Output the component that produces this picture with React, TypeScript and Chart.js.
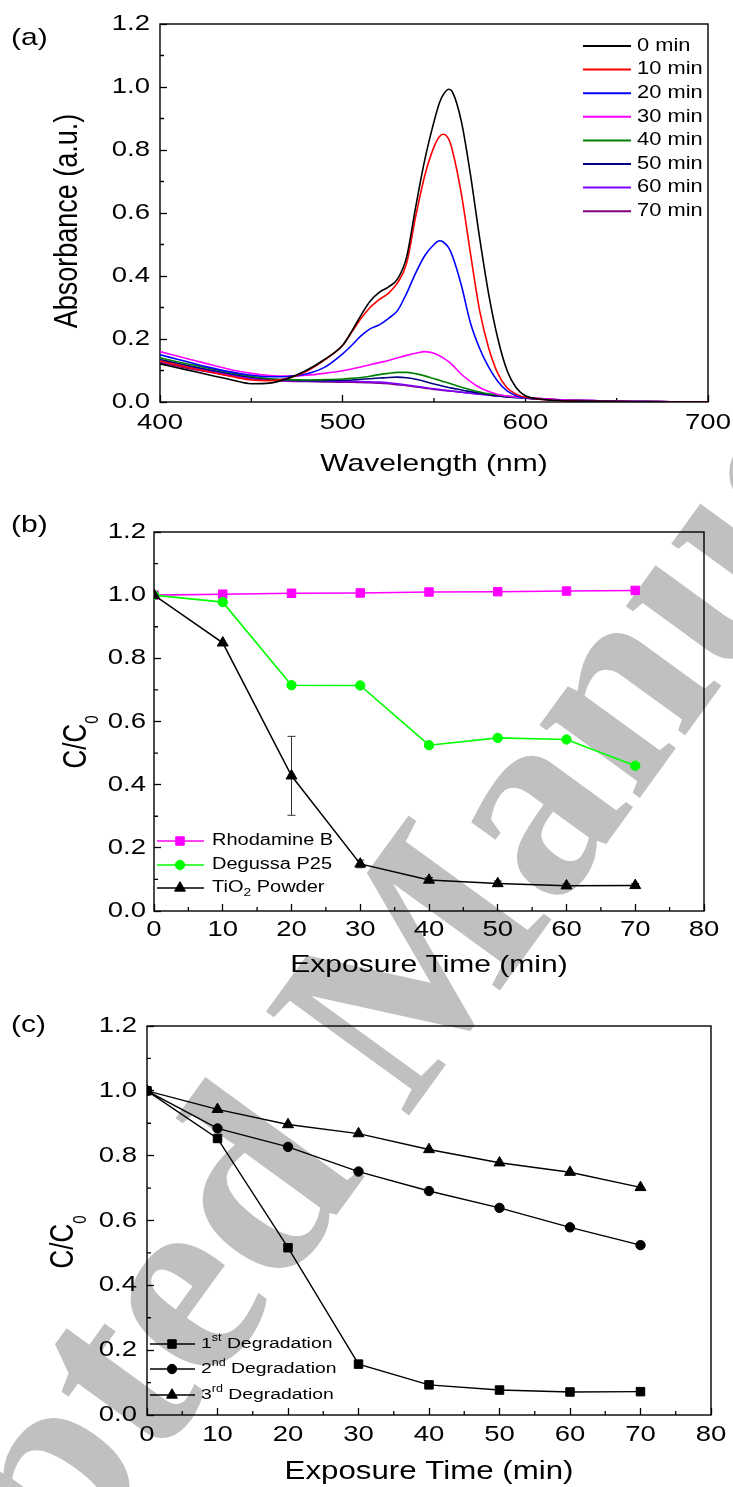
import { useEffect, useRef } from 'react';
import { Chart, registerables } from 'chart.js';

Chart.register(...registerables);

const SANS = "'Liberation Sans', Arial, Helvetica, sans-serif";
const SERIF = "'Liberation Serif', 'Times New Roman', serif";
const STRETCH = 1.25;

/* ---------------- (a) UV-vis spectra ---------------- */
const wavelengthNm = [400, 410, 420, 430, 440, 450, 460, 470, 480, 490, 500, 505, 510, 515, 520, 525, 530, 535, 540, 545, 550, 553, 555, 558, 560, 565, 570, 575, 580, 585, 590, 595, 600, 610, 620, 640, 660, 680, 700];
const abs0min = [0.121, 0.108, 0.095, 0.082, 0.069, 0.058, 0.060, 0.075, 0.100, 0.135, 0.180, 0.225, 0.275, 0.320, 0.348, 0.365, 0.390, 0.460, 0.620, 0.770, 0.890, 0.950, 0.975, 0.993, 0.985, 0.890, 0.720, 0.520, 0.340, 0.200, 0.100, 0.045, 0.020, 0.008, 0.004, 0.002, 0.001, 0.000, 0.000];
const abs10min = [0.130, 0.117, 0.104, 0.092, 0.080, 0.070, 0.068, 0.075, 0.097, 0.133, 0.180, 0.222, 0.265, 0.300, 0.325, 0.345, 0.378, 0.440, 0.590, 0.720, 0.810, 0.843, 0.850, 0.835, 0.800, 0.660, 0.470, 0.290, 0.170, 0.090, 0.045, 0.025, 0.015, 0.008, 0.004, 0.002, 0.001, 0.000, 0.000];
const abs20min = [0.150, 0.135, 0.120, 0.106, 0.094, 0.085, 0.080, 0.081, 0.089, 0.110, 0.153, 0.180, 0.210, 0.232, 0.245, 0.265, 0.290, 0.345, 0.410, 0.465, 0.500, 0.512, 0.508, 0.490, 0.465, 0.370, 0.250, 0.170, 0.110, 0.065, 0.035, 0.020, 0.013, 0.008, 0.005, 0.003, 0.001, 0.000, 0.000];
const abs30min = [0.160, 0.145, 0.130, 0.115, 0.101, 0.091, 0.084, 0.082, 0.085, 0.091, 0.099, 0.105, 0.111, 0.118, 0.125, 0.132, 0.140, 0.148, 0.155, 0.160, 0.155, 0.147, 0.140, 0.128, 0.118, 0.088, 0.065, 0.046, 0.033, 0.024, 0.019, 0.016, 0.014, 0.010, 0.007, 0.004, 0.002, 0.001, 0.000];
const abs40min = [0.140, 0.127, 0.115, 0.103, 0.091, 0.081, 0.074, 0.071, 0.070, 0.071, 0.073, 0.075, 0.078, 0.082, 0.087, 0.091, 0.094, 0.094, 0.090, 0.083, 0.074, 0.069, 0.065, 0.060, 0.056, 0.047, 0.039, 0.032, 0.026, 0.022, 0.019, 0.016, 0.013, 0.009, 0.006, 0.003, 0.002, 0.001, 0.000];
const abs50min = [0.135, 0.122, 0.110, 0.099, 0.088, 0.079, 0.073, 0.070, 0.068, 0.068, 0.069, 0.070, 0.072, 0.074, 0.076, 0.078, 0.079, 0.077, 0.072, 0.065, 0.057, 0.053, 0.050, 0.046, 0.044, 0.038, 0.033, 0.028, 0.023, 0.019, 0.016, 0.014, 0.012, 0.009, 0.006, 0.003, 0.002, 0.001, 0.000];
const abs60min = [0.130, 0.118, 0.106, 0.095, 0.085, 0.076, 0.071, 0.068, 0.067, 0.066, 0.066, 0.066, 0.065, 0.064, 0.063, 0.061, 0.058, 0.054, 0.050, 0.046, 0.042, 0.040, 0.038, 0.036, 0.035, 0.031, 0.028, 0.025, 0.022, 0.019, 0.017, 0.015, 0.013, 0.010, 0.007, 0.004, 0.002, 0.001, 0.000];
const abs70min = [0.125, 0.113, 0.102, 0.092, 0.082, 0.074, 0.069, 0.066, 0.065, 0.064, 0.063, 0.063, 0.062, 0.061, 0.060, 0.058, 0.055, 0.052, 0.048, 0.044, 0.040, 0.038, 0.037, 0.035, 0.034, 0.031, 0.028, 0.025, 0.022, 0.019, 0.017, 0.015, 0.013, 0.010, 0.007, 0.004, 0.002, 0.001, 0.000];
const spectra = [abs0min, abs10min, abs20min, abs30min, abs40min, abs50min, abs60min, abs70min];
const spectraLabels = ['0 min', '10 min', '20 min', '30 min', '40 min', '50 min', '60 min', '70 min'];
const spectraColors = ['#000000', '#ff0000', '#0000ff', '#ff00ff', '#008000', '#000080', '#8000ff', '#800080'];
const wavelengthMinor = [450, 550, 650];

/* ---------------- (b) catalyst comparison ---------------- */
const exposureMin = [0, 10, 20, 30, 40, 50, 60, 70];
const rhodamineB = [1.000, 1.003, 1.006, 1.007, 1.010, 1.011, 1.013, 1.015];
const degussaP25 = [1.000, 0.978, 0.715, 0.714, 0.525, 0.548, 0.543, 0.460];
const tio2Powder = [1.000, 0.849, 0.428, 0.149, 0.098, 0.087, 0.080, 0.081];
const tio2Error = [0, 0, 0.125, 0.012, 0.008, 0.008, 0.006, 0.006];

/* ---------------- (c) reuse cycles ---------------- */
const firstDegradation = [1.000, 0.853, 0.516, 0.157, 0.093, 0.077, 0.071, 0.072];
const secondDegradation = [1.000, 0.884, 0.827, 0.751, 0.691, 0.639, 0.579, 0.524];
const thirdDegradation = [1.000, 0.943, 0.896, 0.868, 0.819, 0.778, 0.749, 0.702];

const timeMinor = [5, 15, 25, 35, 45, 55, 65, 75];
const ratioMinor = [0.1, 0.3, 0.5, 0.7, 0.9, 1.1];

/* ---------------- helpers ---------------- */
function patchStretch(ctx: any) {
  if (ctx.__stretched) return;
  ctx.__stretched = true;
  const orig = ctx.fillText;
  ctx.fillText = function (text: string, x: number, y: number, ...rest: any[]) {
    this.save();
    this.translate(x, y);
    const m = this.getTransform();
    if (Math.abs(m.b) > Math.abs(m.a)) this.scale(1, STRETCH);
    else this.scale(STRETCH, 1);
    orig.call(this, text, 0, 0, ...rest);
    this.restore();
  };
}

function linearAxis(isX: boolean, o: any) {
  return {
    type: 'linear',
    position: isX ? 'bottom' : 'left',
    min: o.min,
    max: o.max,
    ticks: {
      stepSize: o.step,
      autoSkip: false,
      maxRotation: 0,
      minRotation: 0,
      padding: o.labelPad,
      color: '#000',
      font: { family: SANS, size: 22 },
      callback: (v: number) => (isX ? String(Math.round(v)) : v.toFixed(1)),
    },
    grid: { display: true, drawOnChartArea: false, drawTicks: true, tickLength: -7, tickColor: '#000', tickWidth: 1.3 },
    border: { display: false },
    title: isX
      ? { display: true, text: o.title, color: '#000', font: { family: SANS, size: o.titleSize || 24 }, padding: { top: 0, bottom: o.titlePad || 0 } }
      : { display: false },
    afterFit: (s: any) => {
      if (isX) {
        s.height = o.size;
        s.paddingLeft = 0;
        s.paddingRight = 0;
      } else {
        s.width = o.size;
        s.paddingTop = 0;
        s.paddingBottom = 0;
      }
    },
  };
}

function drawMarker(ctx: any, style: string, x: number, y: number, r: number, color: string) {
  ctx.save();
  ctx.fillStyle = color;
  ctx.strokeStyle = color;
  ctx.lineWidth = 1;
  ctx.beginPath();
  if (style === 'rect') {
    const s = r * Math.SQRT1_2;
    ctx.rect(x - s, y - s, 2 * s, 2 * s);
  } else if (style === 'circle') {
    ctx.arc(x, y, r, 0, Math.PI * 2);
  } else {
    ctx.moveTo(x, y - r);
    ctx.lineTo(x + r * Math.sin((2 * Math.PI) / 3), y - r * Math.cos((2 * Math.PI) / 3));
    ctx.lineTo(x + r * Math.sin((4 * Math.PI) / 3), y - r * Math.cos((4 * Math.PI) / 3));
    ctx.closePath();
  }
  ctx.fill();
  ctx.stroke();
  ctx.restore();
}

function drawPieces(ctx: any, x: number, y: number, pieces: any[]) {
  let cx = x;
  for (const p of pieces) {
    ctx.font = `${p.size}px ${SANS}`;
    ctx.textAlign = 'left';
    ctx.textBaseline = 'middle';
    ctx.fillStyle = '#000';
    ctx.fillText(p.t, cx, y + (p.dy || 0));
    cx += ctx.measureText(p.t).width * STRETCH;
  }
}

function decorPlugin(d: any) {
  return {
    id: 'decor',
    beforeDatasetsDraw(chart: any) {
      const { ctx, chartArea: a, scales } = chart;
      ctx.save();
      ctx.strokeStyle = '#000';
      ctx.lineWidth = 1.3;
      ctx.beginPath();
      for (const v of d.xMinor) {
        const px = scales.x.getPixelForValue(v);
        ctx.moveTo(px, a.bottom);
        ctx.lineTo(px, a.bottom - 4);
      }
      for (const v of d.yMinor) {
        const py = scales.y.getPixelForValue(v);
        ctx.moveTo(a.left, py);
        ctx.lineTo(a.left + 4, py);
      }
      ctx.stroke();
      ctx.lineWidth = 1.4;
      ctx.strokeRect(a.left, a.top, a.right - a.left, a.bottom - a.top);
      if (d.errors) {
        ctx.strokeStyle = '#333';
        ctx.lineWidth = 1;
        ctx.beginPath();
        d.errors.x.forEach((xv: number, i: number) => {
          const e = d.errors.e[i];
          if (!e) return;
          const px = scales.x.getPixelForValue(xv);
          const y1 = scales.y.getPixelForValue(d.errors.y[i] + e);
          const y2 = scales.y.getPixelForValue(d.errors.y[i] - e);
          ctx.moveTo(px, y1);
          ctx.lineTo(px, y2);
          ctx.moveTo(px - 4, y1);
          ctx.lineTo(px + 4, y1);
          ctx.moveTo(px - 4, y2);
          ctx.lineTo(px + 4, y2);
        });
        ctx.stroke();
      }
      ctx.restore();
    },
    afterDraw(chart: any) {
      const { ctx } = chart;
      ctx.save();
      ctx.font = `24px ${SANS}`;
      ctx.fillStyle = '#000';
      ctx.textAlign = 'left';
      ctx.textBaseline = 'middle';
      ctx.fillText(d.panel.text, d.panel.x, d.panel.y);
      const yt = d.yTitle;
      ctx.save();
      ctx.translate(yt.x, yt.y);
      ctx.rotate(-Math.PI / 2);
      let total = 0;
      for (const p of yt.pieces) {
        ctx.font = `${p.size}px ${SANS}`;
        total += ctx.measureText(p.t).width;
      }
      let cx = -total / 2;
      for (const p of yt.pieces) {
        ctx.font = `${p.size}px ${SANS}`;
        ctx.textAlign = 'left';
        ctx.textBaseline = 'middle';
        ctx.fillText(p.t, cx, p.dy || 0);
        cx += ctx.measureText(p.t).width;
      }
      ctx.restore();
      const lg = d.legend;
      lg.rows.forEach((r: any) => {
        ctx.strokeStyle = r.color;
        ctx.lineWidth = lg.lineWidth;
        ctx.beginPath();
        ctx.moveTo(lg.x0, r.y);
        ctx.lineTo(lg.x1, r.y);
        ctx.stroke();
        if (r.style) drawMarker(ctx, r.style, lg.mx, r.y, r.radius, r.color);
        drawPieces(ctx, lg.tx, r.y, r.pieces);
      });
      ctx.restore();
    },
  };
}

const baseOptions = (padding: any, x: any, y: any) => ({
  responsive: false,
  animation: false,
  events: [],
  layout: { padding },
  plugins: { legend: { display: false }, tooltip: { enabled: false }, title: { display: false } },
  scales: { x, y },
});

function buildA() {
  return {
    type: 'line',
    data: {
      datasets: spectra.map((arr, i) => ({
        label: spectraLabels[i],
        data: wavelengthNm.map((w, j) => ({ x: w, y: arr[j] })),
        borderColor: spectraColors[i],
        borderWidth: 1.6,
        pointRadius: 0,
        fill: false,
        cubicInterpolationMode: 'monotone',
      })),
    },
    options: baseOptions(
      { left: 0, top: 24, right: 25, bottom: 0 },
      linearAxis(true, { min: 400, max: 700, step: 100, labelPad: 15, size: 78, title: 'Wavelength (nm)', titleSize: 24, titlePad: 1 }),
      linearAxis(false, { min: 0, max: 1.2, step: 0.2, labelPad: 17, size: 160 })
    ),
    plugins: [
      decorPlugin({
        xMinor: wavelengthMinor,
        yMinor: ratioMinor,
        panel: { text: '(a)', x: 11, y: 38 },
        yTitle: { x: 68, y: 221, pieces: [{ t: 'Absorbance (a.u.)', size: 27 }] },
        legend: {
          x0: 583, x1: 631, tx: 637, lineWidth: 2,
          rows: spectraLabels.map((lab, i) => ({ y: 46 + i * 23.6, color: spectraColors[i], pieces: [{ t: lab, size: 17.5 }] })),
        },
      }),
    ],
  };
}

function pointSeries(label: string, values: number[], color: string, style: string, radius: number, order: number, width: number) {
  return {
    label,
    data: exposureMin.map((t, i) => ({ x: t, y: values[i] })),
    borderColor: color,
    backgroundColor: color,
    borderWidth: width,
    pointStyle: style,
    pointRadius: radius,
    pointBackgroundColor: color,
    pointBorderColor: color,
    pointBorderWidth: 1,
    tension: 0,
    fill: false,
    order,
  };
}

function buildB() {
  return {
    type: 'line',
    data: {
      datasets: [
        pointSeries('Rhodamine B', rhodamineB, '#ff00ff', 'rect', 6, 2, 1.6),
        pointSeries('Degussa P25', degussaP25, '#00ff00', 'circle', 4.7, 1, 1.6),
        pointSeries('TiO2 Powder', tio2Powder, '#000000', 'triangle', 6.3, 0, 1.5),
      ],
    },
    options: baseOptions(
      { left: 0, top: 52, right: 29, bottom: 0 },
      linearAxis(true, { min: 0, max: 80, step: 10, labelPad: 13, size: 69, title: 'Exposure Time (min)', titleSize: 24, titlePad: 0 }),
      linearAxis(false, { min: 0, max: 1.2, step: 0.2, labelPad: 15, size: 154 })
    ),
    plugins: [
      decorPlugin({
        xMinor: timeMinor,
        yMinor: ratioMinor,
        errors: { x: exposureMin, y: tio2Powder, e: tio2Error },
        panel: { text: '(b)', x: 11, y: 45 },
        yTitle: { x: 77, y: 262, pieces: [{ t: 'C/C', size: 26 }, { t: '0', size: 15, dy: 16 }] },
        legend: {
          x0: 157, x1: 204, mx: 180, tx: 212, lineWidth: 1.6,
          rows: [
            { y: 361, color: '#ff00ff', style: 'rect', radius: 6, pieces: [{ t: 'Rhodamine B', size: 16 }] },
            { y: 385, color: '#00ff00', style: 'circle', radius: 4.7, pieces: [{ t: 'Degussa P25', size: 16 }] },
            { y: 408, color: '#000000', style: 'triangle', radius: 6.3, pieces: [{ t: 'TiO', size: 16 }, { t: '2', size: 11, dy: 5 }, { t: ' Powder', size: 16 }] },
          ],
        },
      }),
    ],
  };
}

function buildC() {
  return {
    type: 'line',
    data: {
      datasets: [
        pointSeries('1st Degradation', firstDegradation, '#000000', 'rect', 6, 0, 1.4),
        pointSeries('2nd Degradation', secondDegradation, '#000000', 'circle', 4.7, 1, 1.4),
        pointSeries('3rd Degradation', thirdDegradation, '#000000', 'triangle', 6.3, 2, 1.4),
      ],
    },
    options: baseOptions(
      { left: 0, top: 46, right: 22, bottom: 0 },
      linearAxis(true, { min: 0, max: 80, step: 10, labelPad: 14, size: 72, title: 'Exposure Time (min)', titleSize: 25, titlePad: 0 }),
      linearAxis(false, { min: 0, max: 1.2, step: 0.2, labelPad: 17, size: 147 })
    ),
    plugins: [
      decorPlugin({
        xMinor: timeMinor,
        yMinor: ratioMinor,
        panel: { text: '(c)', x: 11, y: 45 },
        yTitle: { x: 64, y: 262, pieces: [{ t: 'C/C', size: 26 }, { t: '0', size: 15, dy: 17 }] },
        legend: {
          x0: 150, x1: 195, mx: 172, tx: 201, lineWidth: 1.4,
          rows: [
            { y: 364, color: '#000', style: 'rect', radius: 6, pieces: [{ t: '1', size: 15.5 }, { t: 'st', size: 10, dy: -6 }, { t: ' Degradation', size: 15.5 }] },
            { y: 389, color: '#000', style: 'circle', radius: 4.7, pieces: [{ t: '2', size: 15.5 }, { t: 'nd', size: 10, dy: -6 }, { t: ' Degradation', size: 15.5 }] },
            { y: 415, color: '#000', style: 'triangle', radius: 6.3, pieces: [{ t: '3', size: 15.5 }, { t: 'rd', size: 10, dy: -6 }, { t: ' Degradation', size: 15.5 }] },
          ],
        },
      }),
    ],
  };
}

function ChartPanel({ top, height, build }: any) {
  const ref = useRef<HTMLCanvasElement>(null);
  useEffect(() => {
    const canvas = ref.current as HTMLCanvasElement;
    const ctx = canvas.getContext('2d') as any;
    patchStretch(ctx);
    const chart = new Chart(ctx, build());
    return () => chart.destroy();
  }, []);
  return (
    <canvas
      ref={ref}
      width={733}
      height={height}
      style={{ position: 'absolute', left: 0, top, width: 733, height, display: 'block' }}
    />
  );
}

const WM_TEXT = 'Accepted Manuscript';
const WM_SIZE = 270;
const WM_ANGLE = -54;
const WM_X = -259;
const WM_Y = 2035;

export default function App() {
  const base = 0.8375 * WM_SIZE;
  return (
    <div style={{ position: 'absolute', left: 0, top: 0, width: 733, height: 1487, overflow: 'hidden', background: '#ffffff' }}>
      <div
        style={{
          position: 'absolute',
          left: WM_X,
          top: WM_Y - base,
          fontFamily: SERIF,
          fontWeight: 700,
          fontSize: WM_SIZE,
          lineHeight: `${WM_SIZE}px`,
          color: '#c0c0c0',
          whiteSpace: 'nowrap',
          transformOrigin: `0px ${base}px`,
          transform: `rotate(${WM_ANGLE}deg)`,
        }}
      >
        {WM_TEXT}
      </div>
      <ChartPanel top={0} height={480} build={buildA} />
      <ChartPanel top={480} height={500} build={buildB} />
      <ChartPanel top={980} height={507} build={buildC} />
    </div>
  );
}
